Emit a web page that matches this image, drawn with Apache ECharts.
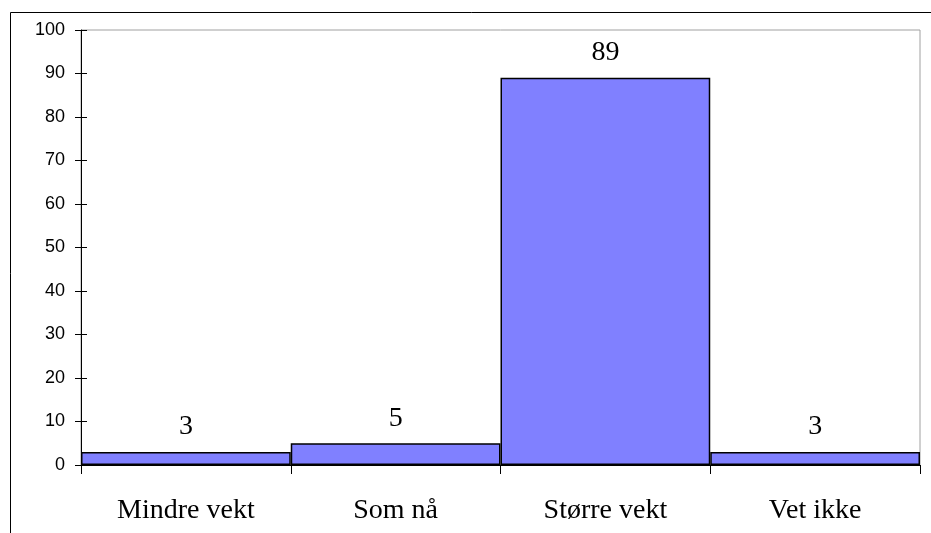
<!DOCTYPE html>
<html><head><meta charset="utf-8">
<script src="https://cdn.jsdelivr.net/npm/echarts@6/dist/echarts.min.js"></script>
<style>html,body{margin:0;padding:0;background:#fff}#c{width:931px;height:533px}</style>
</head><body><div id="c"></div>
<script>
const categories = ['Mindre vekt', 'Som nå', 'Større vekt', 'Vet ikke'];
const values = [3, 5, 89, 3];
const yMin = 0, yMax = 100, yStep = 10;

const chart = echarts.init(document.getElementById('c'), null, {renderer: 'canvas'});
const grid = {left: 81, right: 11, top: 30, bottom: 68, show: true, borderColor: '#a0a0a0', borderWidth: 1, backgroundColor: 'transparent'};
chart.setOption({
  animation: false,
  graphic: [{type: 'rect', shape: {x: 10.5, y: 12.5, width: 1000, height: 700}, style: {fill: 'none', stroke: '#000', lineWidth: 1}, z: 0}],
  grid: grid,
  xAxis: [{
    type: 'category', data: categories,
    axisLine: {lineStyle: {color: '#000', width: 1}},
    axisTick: {show: true, length: 9, alignWithLabel: false, lineStyle: {color: '#000'}},
    axisLabel: {fontFamily: 'Liberation Serif', fontSize: 28, color: '#000', margin: 32},
    splitLine: {show: false}
  }],
  yAxis: [{
    type: 'value', min: yMin, max: yMax, interval: yStep,
    axisLine: {show: true, lineStyle: {color: '#000', width: 1}},
    axisTick: {show: true, length: 6, lineStyle: {color: '#000'}},
    axisLabel: {fontFamily: 'Liberation Sans', fontSize: 18, color: '#000', margin: 16},
    splitLine: {show: false}
  }, {
    type: 'value', min: yMin, max: yMax, interval: yStep, position: 'left',
    axisLine: {show: false},
    axisTick: {show: true, inside: true, length: 6, lineStyle: {color: '#000'}},
    axisLabel: {show: false},
    splitLine: {show: false}
  }],
  series: [{
    type: 'bar', data: values, barCategoryGap: '0%',
    itemStyle: {color: '#8080ff', borderColor: '#000', borderWidth: 1.5},
    label: {show: true, position: 'top', distance: 11, fontFamily: 'Liberation Serif', fontSize: 28, color: '#000'}
  }]
});
</script></body></html>
